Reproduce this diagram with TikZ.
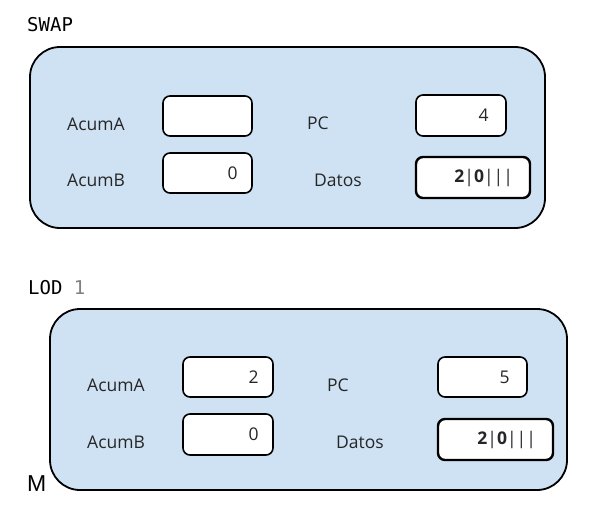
\documentclass[tikz,border=0pt]{standalone}
\usepackage{fontspec}
\setmainfont{Open Sans}
\newfontfamily\monof{DejaVu Sans Mono}
\newfontfamily\mfont{Liberation Sans}
\definecolor{panelblue}{HTML}{CFE2F3}
\definecolor{txt}{HTML}{262626}
\begin{document}
\begin{tikzpicture}[x=1pt,y=-1pt,
  panel/.style={draw=black,line width=1.8pt,fill=panelblue,rounded corners=30pt},
  regbox/.style={draw=black,line width=1.6pt,fill=white,rounded corners=7pt,inner sep=0pt},
  datbox/.style={regbox,line width=2.4pt},
  lbl/.style={anchor=west,font=\fontsize{17.5}{20}\selectfont,text=txt,inner sep=0pt},
  val/.style={anchor=east,font=\fontsize{17.5}{20}\selectfont,text=txt,inner sep=0pt},
  cmd/.style={anchor=west,font=\monof\fontsize{19}{22}\selectfont,inner sep=0pt}]
\useasboundingbox (0,0) rectangle (594,522);
% ---- top panel (SWAP)
\node[cmd] (t1) at (27,25) {SWAP};
\draw[panel] (30,47) rectangle (545,228);
\node[lbl] (t1la) at (67,124) {AcumA};
\node[lbl] (t1lb) at (67,180) {AcumB};
\node[lbl] (t1lp) at (307,123) {PC};
\node[lbl] (t1ld) at (314,180) {Datos};
\node[regbox,minimum width=89pt,minimum height=40pt] (t1ba) at (207.5,116) {};
\node[regbox,minimum width=89pt,minimum height=40pt] (t1bb) at (207.5,173) {};
\node[regbox,minimum width=90pt,minimum height=41pt] (t1bp) at (461,115.5) {};
\node[datbox,minimum width=114pt,minimum height=41pt] (t1bd) at (473,177.5) {};
\node[val] (t1vb) at ([xshift=-15pt]t1bb.east) {0};
\node[val] (t1vp) at ([xshift=-18pt]t1bp.east) {4};
\node[val] (t1vd) at ([xshift=-18pt]t1bd.east) {\textbf{2}|\textbf{0}|||};
% ---- bottom panel (LOD 1)
\node[cmd] (t2) at (28,288) {LOD \textcolor{gray}{1}};
\draw[panel] (50,309) rectangle (567,490);
\node[lbl] (t2la) at (87,385) {AcumA};
\node[lbl] (t2lb) at (87,442) {AcumB};
\node[lbl] (t2lp) at (327,385) {PC};
\node[lbl] (t2ld) at (336,442) {Datos};
\node[regbox,minimum width=90pt,minimum height=40pt] (t2ba) at (228,377) {};
\node[regbox,minimum width=90pt,minimum height=41pt] (t2bb) at (228,434.5) {};
\node[regbox,minimum width=89pt,minimum height=40pt] (t2bp) at (482.5,377) {};
\node[datbox,minimum width=115pt,minimum height=41pt] (t2bd) at (495.5,439.5) {};
\node[val] (t2va) at ([xshift=-15pt]t2ba.east) {2};
\node[val] (t2vb) at ([xshift=-15pt]t2bb.east) {0};
\node[val] (t2vp) at ([xshift=-18pt]t2bp.east) {5};
\node[val] (t2vd) at ([xshift=-18pt]t2bd.east) {\textbf{2}|\textbf{0}|||};
\node[anchor=base west,font=\mfont\fontsize{23}{26}\selectfont,inner sep=0pt] (m) at (27,491) {M};
\end{tikzpicture}
\end{document}
